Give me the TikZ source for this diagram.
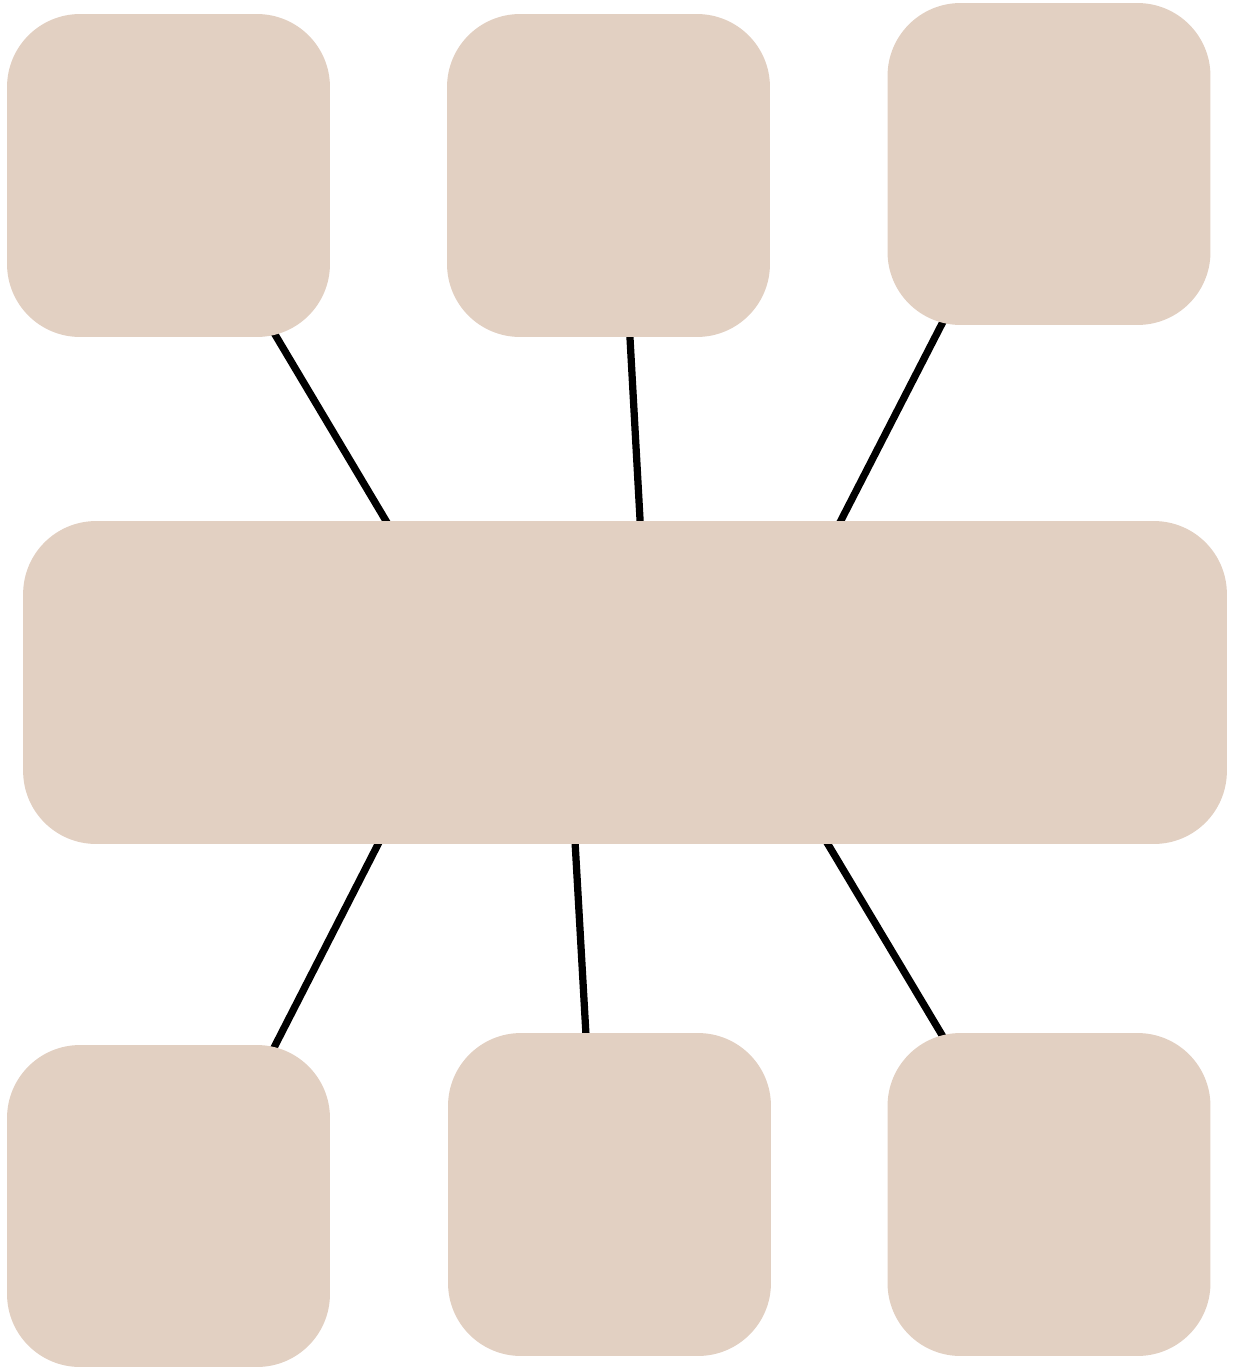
\documentclass[tikz,border=0pt]{standalone}
\usetikzlibrary{backgrounds,calc}
\definecolor{sand}{HTML}{E2D0C2}

\begin{document}
\begin{tikzpicture}[x=0.02cm,y=-0.02cm,
  box/.style={fill=sand,draw=none,rounded corners=1.46cm,inner sep=0pt,
    minimum width=6.46cm,minimum height=6.46cm},
  hubbox/.style={box,minimum width=24.08cm},
  link/.style={line width=0.145cm,black}]
\useasboundingbox (0,0) rectangle (1232,1370);
% ---------- boxes ----------
\node[box] (tl) at (168.5,175.5) {};
\node[box] (tm) at (608.5,175.5) {};
\node[box,minimum height=6.44cm] (tr) at (1049,164) {};
\node[hubbox] (hub) at (625,682.5) {};
\node[box,minimum height=6.44cm] (bl) at (168.5,1206) {};
\node[box] (bm) at (609.5,1194.5) {};
\node[box] (br) at (1049,1194.5) {};
% ---------- links (behind the boxes) ----------
\begin{scope}[on background layer]
  \draw[link] ($(tl.center)+(11.5,-0.5)$) -- ($(hub.center)+(-143,-0.5)$);
  \draw[link] ($(tm.center)+(12.5,-0.5)$) -- ($(hub.center)+(24,-0.5)$);
  \draw[link] ($(tr.center)+(-25,0)$) -- ($(hub.center)+(133,-0.5)$);
  \draw[link] ($(hub.center)+(-164,-0.5)$) -- ($(bl.center)+(24.5,0)$);
  \draw[link] ($(hub.center)+(-59,-0.5)$) -- ($(bm.center)+(-14.5,-0.5)$);
  \draw[link] ($(hub.center)+(106,-0.5)$) -- ($(br.center)+(-12,-0.5)$);
\end{scope}
\end{tikzpicture}
\end{document}
